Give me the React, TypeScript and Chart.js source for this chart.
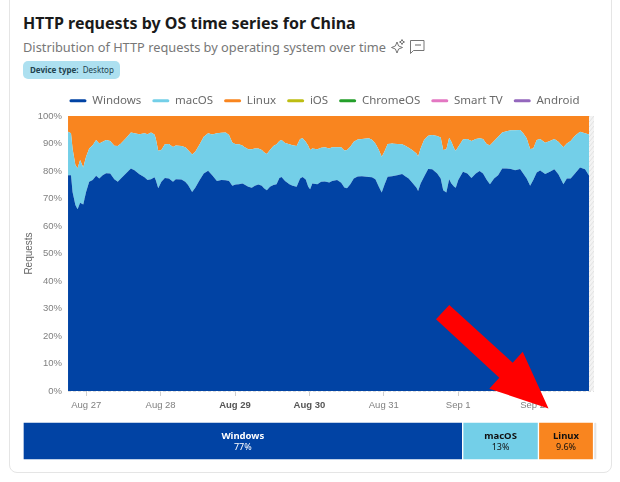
import React, { useEffect, useRef } from "react";
import { Chart, registerables } from "chart.js";

Chart.register(...registerables);

const hours = [
  -5.86, -4.9, -4.4, -3.49, -2.78, -1.97, -0.95, -0.04, 0.97, 2.08, 3.2, 4.2, 5.32, 6.43, 7.75, 9.07, 10.18, 11.19, 12.81, 14.43, 15.55, 17.17, 18.8, 19.8, 20.91, 22.02,
  22.43, 23.24, 24.25, 25.37, 26.68, 28.0, 28.9, 30.73, 31.95, 32.86, 34.17, 35.18, 36.6, 37.92, 39.33, 40.65, 42.17, 43.59, 45.0, 46.07, 47.13, 48.24, 49.26, 50.37,
  50.88, 52.29, 53.41, 54.42, 55.53, 56.65, 57.35, 58.27, 59.28, 60.39, 61.4, 62.31, 63.02, 64.14, 65.55, 66.57, 67.88, 68.99, 69.81, 70.82, 71.63, 72.23, 72.94, 74.56, 75.78, 76.99, 78.41,
  79.32, 80.94, 82.26, 83.27, 84.13, 85.19, 86.31, 87.57, 88.94, 91.17, 92.18, 93.29, 94.4, 95.32, 96.18, 97.24, 98.66, 100.28, 101.9, 102.91, 104.02, 105.13, 106.55,
  107.06, 107.87, 108.98, 110.3, 111.61, 113.23, 114.35, 115.16, 116.17, 117.08, 117.79, 118.7, 119.21, 120.02, 121.53, 122.95, 124.27, 125.68, 126.9, 128.01, 129.23, 130.24, 131.56, 132.87, 134.19,
  135.6, 137.02, 138.34, 139.96, 140.97, 142.08, 143.2, 144.21, 145.32, 146.44, 148.06, 149.58, 151.0, 152.31, 153.93, 155.04, 156.26, 157.67, 159.29, 160.91, 162.23,
];
const windows = [
  78.5, 78.5, 72.4, 67.6, 66.1, 68.5, 67.8, 72.4, 76.1, 76.7, 78.3, 77.3, 78.5, 79.2, 79.1, 77.0, 76.1, 77.3, 79.1, 80.9, 80.3, 78.8, 77.7, 76.7, 77.0, 77.7,
  76.7, 73.7, 76.1, 77.5, 77.3, 76.1, 77.0, 76.9, 76.1, 74.9, 72.4, 73.9, 76.7, 79.1, 80.1, 78.5, 76.4, 76.7, 76.6, 76.4, 74.6, 75.1, 75.2, 75.5,
  75.2, 74.3, 73.9, 74.6, 75.1, 74.6, 73.7, 73.0, 74.3, 74.9, 75.2, 77.5, 77.8, 76.4, 75.2, 74.6, 74.3, 77.3, 77.8, 76.9, 74.3, 73.4, 75.5, 75.2, 76.1, 76.2, 75.8,
  76.4, 76.7, 75.7, 74.0, 73.7, 75.2, 77.3, 78.0, 78.1, 77.8, 77.7, 77.0, 74.3, 72.2, 74.9, 77.9, 78.1, 78.5, 78.9, 78.1, 77.3, 75.8, 73.9,
  72.7, 75.5, 77.9, 80.7, 80.6, 79.1, 77.3, 73.0, 72.2, 77.0, 75.5, 74.3, 73.9, 76.7, 79.7, 79.1, 77.5, 79.1, 80.0, 79.1, 76.7, 75.2, 77.3, 78.5, 80.9,
  80.9, 80.7, 80.3, 80.7, 79.1, 77.3, 74.6, 76.7, 79.5, 80.2, 78.9, 79.7, 80.6, 78.8, 75.2, 77.3, 77.3, 79.1, 81.3, 80.6, 78.3,
];
const macOS = [
  15.8, 15.2, 15.8, 14.6, 14.9, 15.5, 13.5, 12.8, 12.1, 12.7, 13.0, 12.7, 12.1, 12.1, 11.8, 12.2, 13.0, 12.7, 12.8, 13.1, 13.4, 14.6, 16.0, 16.7, 17.0, 15.6,
  15.2, 13.7, 11.5, 12.2, 12.5, 12.6, 12.3, 12.2, 12.5, 12.7, 13.6, 13.1, 13.0, 13.4, 13.6, 14.8, 17.3, 17.2, 17.4, 16.7, 15.8, 14.6, 14.5, 13.8,
  13.6, 13.6, 14.0, 13.6, 13.1, 13.0, 13.1, 13.2, 13.3, 14.2, 14.5, 13.4, 13.5, 13.8, 14.5, 14.8, 14.8, 14.3, 14.1, 13.7, 14.9, 14.2, 12.7, 12.7, 12.4, 12.4, 12.4,
  12.2, 11.9, 12.9, 13.5, 13.9, 13.6, 13.3, 13.5, 13.5, 14.1, 13.7, 13.0, 13.3, 13.0, 12.1, 11.9, 11.9, 11.3, 10.8, 11.1, 11.2, 11.8, 12.5,
  12.6, 12.7, 13.4, 12.1, 12.5, 13.6, 14.9, 14.6, 15.7, 15.1, 15.1, 13.9, 13.5, 12.1, 11.8, 12.5, 13.4, 12.5, 11.9, 12.5, 13.0, 14.2, 13.6, 14.0, 13.1,
  13.6, 14.1, 14.5, 14.2, 14.6, 14.6, 13.4, 11.5, 11.8, 11.4, 11.4, 11.2, 11.0, 11.8, 13.4, 12.7, 13.6, 13.7, 13.0, 13.1, 15.0,
];
const linux = [
  5.7, 6.3, 11.8, 17.8, 19.0, 16.0, 18.7, 14.8, 11.8, 10.6, 8.7, 10.0, 9.4, 8.7, 9.1, 10.8, 10.9, 10.0, 8.1, 6.0, 6.3, 6.6, 6.3, 6.6, 6.0, 6.7,
  8.1, 12.6, 12.4, 10.3, 10.2, 11.3, 10.7, 10.9, 11.4, 12.4, 14.0, 13.0, 10.3, 7.5, 6.3, 6.7, 6.3, 6.1, 6.0, 6.9, 9.6, 10.3, 10.3, 10.7,
  11.2, 12.1, 12.1, 11.8, 11.8, 12.4, 13.2, 13.8, 12.4, 10.9, 10.3, 9.1, 8.7, 9.8, 10.3, 10.6, 10.9, 8.4, 8.1, 9.4, 10.8, 12.4, 11.8, 12.1, 11.5, 11.4, 11.8,
  11.4, 11.4, 11.4, 12.5, 12.4, 11.2, 9.4, 8.5, 8.4, 8.1, 8.6, 10.0, 12.4, 14.8, 13.0, 10.2, 10.0, 10.2, 10.3, 10.8, 11.5, 12.4, 13.6,
  14.7, 11.8, 8.7, 7.2, 6.9, 7.3, 7.8, 12.4, 12.1, 7.9, 9.4, 11.8, 12.6, 11.2, 8.5, 8.4, 9.1, 8.4, 8.1, 8.4, 10.3, 10.6, 9.1, 7.5, 6.0,
  5.5, 5.2, 5.2, 5.1, 6.3, 8.1, 12.0, 11.8, 8.7, 8.4, 9.7, 9.1, 8.4, 9.4, 11.4, 10.0, 9.1, 7.2, 5.7, 6.3, 6.7,
];

const osNames = ["Windows", "macOS", "Linux", "iOS", "ChromeOS", "Smart TV", "Android"];
const osColors = ["#0143a4", "#73cfe8", "#f9851f", "#bdbd12", "#249f2a", "#e377c2", "#9467bd"];
const tickHours = [0, 24, 48, 72, 96, 120, 144];
const tickLabels = ["Aug 27", "Aug 28", "Aug 29", "Aug 30", "Aug 31", "Sep 1", "Sep 2"];
const boldTicks = ["Aug 29", "Aug 30"];
const yTicks = [0, 10, 20, 30, 40, 50, 60, 70, 80, 90, 100];
const partialFrom = 162.23;

const shareNames = ["Windows", "macOS", "Linux", "Other"];
const shareValues = [76.6, 13.2, 9.6, 0.6];
const shareColors = ["#0143a4", "#73cfe8", "#f9851f", "#e4e4e4"];
const shareLabels = ["77%", "13%", "9.6%", ""];
const shareTextColors = ["#ffffff", "#111111", "#111111", ""];

const axisFont = "'Liberation Sans', Arial, sans-serif";
const uiFont = "'Noto Sans', sans-serif";

export default function App() {
  const mainRef = useRef<HTMLCanvasElement>(null);
  const barRef = useRef<HTMLCanvasElement>(null);

  useEffect(() => {
    document.body.style.margin = "0";
    const zeros = hours.map(() => 0);
    const series = [windows, macOS, linux, zeros, zeros, zeros, zeros];

    const hatch = {
      id: "hatch",
      beforeDatasetsDraw(chart: any) {
        const { ctx, chartArea, scales } = chart;
        const x0 = scales.x.getPixelForValue(partialFrom);
        ctx.save();
        ctx.beginPath();
        ctx.rect(x0, chartArea.top, chartArea.right - x0, chartArea.bottom - chartArea.top);
        ctx.clip();
        ctx.fillStyle = "#f3f3f3";
        ctx.fillRect(x0, chartArea.top, chartArea.right - x0, chartArea.bottom - chartArea.top);
        ctx.strokeStyle = "#e2e2e2";
        ctx.lineWidth = 1;
        for (let y = chartArea.top - 10; y < chartArea.bottom + 10; y += 5) {
          ctx.beginPath();
          ctx.moveTo(x0, y + 6);
          ctx.lineTo(chartArea.right, y);
          ctx.stroke();
        }
        ctx.restore();
      },
    };

    const legendPlace = {
      id: "legendPlace",
      beforeInit(chart: any) {
        const legend = chart.legend;
        const fit = legend.fit;
        legend.fit = function () {
          fit.call(this);
          this.height = 35;
        };
        const draw = legend.draw;
        legend.draw = function () {
          chart.ctx.save();
          chart.ctx.translate(16, 3);
          draw.call(this);
          chart.ctx.restore();
        };
      },
    };

    const main = new Chart(mainRef.current!, {
      type: "line",
      data: {
        datasets: osNames.map((name, i) => ({
          label: name,
          data: hours.map((h, j) => ({ x: h, y: series[i][j] })),
          backgroundColor: osColors[i],
          borderColor: osColors[i],
          borderWidth: 0,
          pointRadius: 0,
          tension: 0,
          fill: i === 0 ? "origin" : "-1",
        })),
      },
      options: {
        animation: false,
        responsive: false,
        events: [],
        layout: { padding: { left: 23, right: 26, top: 0, bottom: 0 } },
        plugins: {
          tooltip: { enabled: false },
          title: { display: false },
          legend: {
            display: true,
            position: "top",
            labels: {
              boxWidth: 17,
              boxHeight: 3,
              useBorderRadius: true,
              borderRadius: 1.5,
              padding: 11,
              color: "#6a6a6a",
              font: { family: uiFont, size: 11.5 },
            },
          },
        },
        scales: {
          x: {
            type: "linear",
            min: -5.87,
            max: 163.8,
            afterBuildTicks: (s: any) => {
              s.ticks = tickHours.map((value) => ({ value }));
            },
            afterFit: (s: any) => {
              s.height = 20;
            },
            grid: { drawOnChartArea: false, drawTicks: true, tickLength: 5, color: "#cfcfcf" },
            border: { display: false },
            ticks: {
              autoSkip: false,
              maxRotation: 0,
              padding: 3.5,
              callback: (_v: any, i: number) => tickLabels[i],
              color: (c: any) => (boldTicks.includes(tickLabels[c.index]) ? "#555555" : "#808080"),
              font: (c: any) => ({
                family: axisFont,
                size: 9.5,
                weight: boldTicks.includes(tickLabels[c.index]) ? "bold" : "normal",
              }),
            },
          },
          y: {
            stacked: true,
            min: 0,
            max: 100,
            afterBuildTicks: (s: any) => {
              s.ticks = yTicks.map((value) => ({ value }));
            },
            afterFit: (s: any) => {
              s.width = 45;
            },
            title: {
              display: true,
              text: "Requests",
              color: "#666666",
              font: { family: axisFont, size: 10 },
              padding: { top: 0, bottom: 0 },
            },
            grid: { drawTicks: false, color: "#dedede" },
            border: { display: false, dash: [3, 2] },
            ticks: {
              padding: 6,
              color: "#808080",
              font: { family: axisFont, size: 9.5 },
              callback: (v: any) => `${v}%`,
            },
          },
        },
      },
      plugins: [legendPlace, hatch],
    } as any);

    const shareText = {
      id: "shareText",
      afterDatasetsDraw(chart: any) {
        const { ctx } = chart;
        chart.data.datasets.forEach((ds: any, i: number) => {
          if (!shareLabels[i]) return;
          const bar = chart.getDatasetMeta(i).data[0];
          const cx = (bar.x + bar.base) / 2;
          ctx.save();
          ctx.textAlign = "center";
          ctx.textBaseline = "middle";
          ctx.fillStyle = shareTextColors[i];
          ctx.font = `bold 9.5px ${uiFont}`;
          ctx.fillText(ds.label, cx, bar.y - 5);
          ctx.font = `9px ${uiFont}`;
          ctx.fillText(shareLabels[i], cx, bar.y + 6);
          ctx.restore();
        });
      },
    };

    const bar = new Chart(barRef.current!, {
      type: "bar",
      data: {
        labels: ["share"],
        datasets: shareNames.map((name, i) => ({
          label: name,
          data: [shareValues[i]],
          backgroundColor: shareColors[i],
          borderColor: "#ffffff",
          borderWidth: 1,
          borderRadius: 2,
          borderSkipped: false,
          barPercentage: 1,
          categoryPercentage: 1,
        })),
      },
      options: {
        indexAxis: "y",
        animation: false,
        responsive: false,
        events: [],
        layout: { padding: { left: 23, right: 23, top: 7, bottom: 0 } },
        plugins: { legend: { display: false }, tooltip: { enabled: false } },
        scales: {
          x: { stacked: true, display: false, min: 0, max: 100 },
          y: { stacked: true, display: false },
        },
      },
      plugins: [shareText],
    } as any);

    return () => {
      main.destroy();
      bar.destroy();
    };
  }, []);

  return (
    <div style={{ position: "relative", width: 620, height: 482, overflow: "hidden", background: "#fff", fontFamily: uiFont }}>
      <div
        style={{
          position: "absolute",
          left: 9,
          top: -20,
          width: 601,
          height: 491,
          border: "1px solid #e5e5e5",
          borderRadius: 8,
          boxSizing: "content-box",
        }}
      />
      <div style={{ position: "absolute", left: 23, top: 11, fontSize: 16, fontWeight: 700, color: "#1a1a1a", whiteSpace: "nowrap", lineHeight: "24px" }}>
        HTTP requests by OS time series for China
      </div>
      <div style={{ position: "absolute", left: 23, top: 37, fontSize: 12.8, color: "#777777", whiteSpace: "nowrap", lineHeight: "20px" }}>
        Distribution of HTTP requests by operating system over time
      </div>
      <svg style={{ position: "absolute", left: 390, top: 38 }} width={38} height={18} viewBox="0 0 38 18" fill="none" stroke="#666" strokeWidth={0.9}>
        <path d="M7 4 L8.6 8 L12.5 9.5 L8.6 11 L7 15 L5.4 11 L1.5 9.5 L5.4 8 Z" />
        <path d="M12 1.5 L12.8 3.2 L14.5 4 L12.8 4.8 L12 6.5 L11.2 4.8 L9.5 4 L11.2 3.2 Z" />
        <path d="M20.5 2.5 H34 V12.5 H23.5 L20.5 15.5 Z" />
        <path d="M26 6 V8 M28 6 V8 M30 6 V8" strokeWidth={1} />
      </svg>
      <div
        style={{
          position: "absolute",
          left: 23,
          top: 61,
          width: 97,
          height: 18,
          background: "#ade0f0",
          borderRadius: 5,
          fontSize: 8,
          lineHeight: "18px",
          color: "#21424f",
          whiteSpace: "nowrap",
          paddingLeft: 7,
          boxSizing: "border-box",
        }}
      >
        <b>Device type:</b>&nbsp; Desktop
      </div>
      <canvas ref={mainRef} width={620} height={330} style={{ position: "absolute", left: 0, top: 81, width: 620, height: 330 }} />
      <canvas ref={barRef} width={620} height={45} style={{ position: "absolute", left: 0, top: 415, width: 620, height: 45 }} />
      <svg style={{ position: "absolute", left: 0, top: 0, pointerEvents: "none" }} width={620} height={482}>
        <polygon
          points="436,319.3 449.3,305 512.7,362.7 522.7,351.7 548.5,408.5 489.3,388.7 499.3,377.7"
          fill="#ff0000"
        />
      </svg>
    </div>
  );
}
